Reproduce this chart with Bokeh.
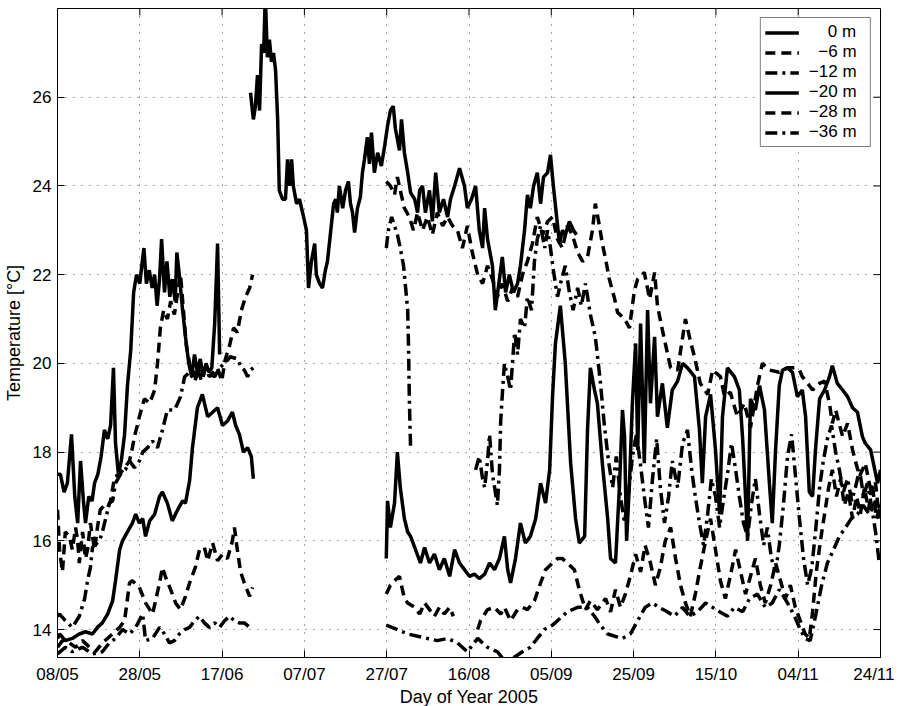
import numpy as np
from bokeh.plotting import figure
from bokeh.models import Range1d, FixedTicker, Legend, LegendItem
from bokeh.embed import file_html
from bokeh.resources import INLINE

# ---------------- axis ticks ----------------
tick_days = [128, 148, 168, 188, 208, 228, 248, 268, 288, 308, 328]
tick_labels = ["08/05", "28/05", "17/06", "07/07", "27/07", "16/08",
               "05/09", "25/09", "15/10", "04/11", "24/11"]
temp_ticks = [14, 16, 18, 20, 22, 24, 26]
day_min, day_max = 128, 328
temp_min, temp_max = 13.37, 28.0

NB = "\u00a0"
series_labels = [NB * 4 + "0 m" + NB * 2, NB * 2 + "\u22126 m" + NB * 2, "\u221212 m" + NB * 2,
                 "\u221220 m" + NB * 2, "\u221228 m" + NB * 2, "\u221236 m" + NB * 2]

# ---------------- data: (day of year, temperature) ----------------
# 0 m
m0_a = [(128.0,17.5),(128.7,17.5),(129.6,17.1),(130.4,17.3),(131.4,18.4),(132.2,17.0),(132.9,16.4),
        (133.6,17.8),(134.3,16.9),(134.8,16.4),(135.6,17.0),(136.4,16.9),(137.0,17.3),(137.8,17.5),
        (138.6,17.9),(139.4,18.5),(140.2,18.3),(140.9,18.6),(141.6,19.9),(142.1,18.2),(142.8,17.5),
        (143.5,17.8),(144.3,18.4),(145.0,19.5),(145.8,20.3),(146.5,21.6),(147.2,22.0),(148.0,21.8),
        (148.6,22.3),(149.0,22.6),(149.6,21.8),(150.3,22.1),(151.0,21.7),(151.6,22.0),(152.2,21.3),
        (152.8,21.9),(153.3,22.8),(154.0,21.6),(154.6,22.3),(155.3,21.5),(155.9,21.9),(156.6,21.4),
        (157.0,22.5),(157.6,22.0),(158.4,21.2),(159.1,20.6),(159.9,20.0),(160.6,19.7),(161.3,20.2),
        (162.0,19.8),(162.7,20.1),(163.4,19.7),(164.1,20.0),(164.8,19.8),(165.5,19.9),(166.2,20.9),
        (166.9,22.7),(167.4,20.2)]
m0_b = [(174.9,26.1),(175.6,25.5),(176.1,25.8),(176.6,26.5),(177.1,25.7),(177.6,27.2),(178.1,27.0),
        (178.5,28.3),(179.0,26.9),(179.5,27.3),(180.0,26.8),(180.5,27.0),(181.0,26.6),(181.5,25.5),
        (181.9,23.9),(182.7,23.7),(183.4,23.7),(183.9,24.6),(184.4,24.0),(184.9,24.6),(185.3,24.0),
        (186.1,23.6),(186.8,23.7),(187.8,23.3),(188.5,23.0),(189.0,21.7),(189.7,22.3),(190.5,22.7),
        (190.9,22.0),(191.7,21.8),(192.4,21.7),(193.1,22.1),(193.6,22.3),(194.3,22.9),(195.1,23.6),
        (195.6,23.7),(196.0,23.4),(196.5,24.0),(197.3,23.5),(198.0,23.9),(198.7,24.1),(199.2,23.6),
        (199.7,23.4),(200.2,22.95),(200.9,23.5),(201.6,23.75),(202.1,24.3),(202.6,24.6),(203.3,25.1),
        (203.8,24.5),(204.3,25.2),(205.0,24.3),(205.8,24.75),(206.7,24.45),(207.5,24.9),(208.2,25.35),
        (208.9,25.7),(209.6,25.8),(210.1,25.3),(211.1,24.8),(211.6,25.5),(212.3,24.75),(213.1,24.3),
        (213.8,23.85),(214.8,23.7),(215.5,23.4),(216.0,23.9),(216.7,24.0),(217.4,23.4),(218.4,23.9),
        (219.1,23.2),(219.9,24.3),(220.8,23.4),(221.8,23.7),(222.8,23.3),(223.5,23.7),(224.5,24.0),
        (225.7,24.4),(226.9,24.0),(227.6,23.5),(228.6,23.7),(229.6,24.0),(230.5,23.0),(231.3,22.6),
        (231.8,23.5),(232.5,22.8),(233.7,22.2),(234.4,21.2),(235.4,21.9),(236.1,22.4),(236.9,21.6),
        (237.8,22.0),(238.8,21.6),(239.8,21.8),(240.5,22.2),(241.5,23.0),(242.2,23.8),(242.9,23.5),
        (243.7,24.0),(244.6,24.3),(245.4,23.6),(246.1,24.2),(247.1,24.3),(247.8,24.7),(248.5,24.0),
        (249.3,23.3),(250.0,22.7),(250.7,23.0),(251.4,22.9),(252.4,23.2),(253.4,23.0),(254.1,22.9)]

# -6 m
m6_a = [(128.0,16.7),(128.5,15.8),(129.2,15.3),(129.9,16.2),(130.9,16.1),(131.6,15.8),(132.4,16.3),
        (132.9,16.0),(133.3,15.5),(134.1,16.2),(134.8,15.6),(135.3,15.8),(136.0,16.4),(137.0,15.8),
        (137.7,16.3),(138.4,16.7),(139.4,16.8),(140.2,16.75),(140.9,16.9),(141.9,17.45),(143.1,17.5),
        (144.3,17.65),(145.5,17.8),(146.2,18.1),(146.7,18.35),(147.4,18.6),(147.9,18.8),(149.1,19.2),
        (150.4,19.1),(151.6,19.4),(152.3,20.0),(153.0,20.8),(153.8,21.2),(154.7,21.0),(155.5,21.4),
        (156.4,21.1),(157.2,21.6),(157.9,22.0),(158.6,21.2),(159.3,20.4),(160.1,20.0),(161.0,19.7),
        (162.0,19.9),(163.0,19.6),(164.0,19.9),(164.9,19.7),(165.9,19.8),(166.9,19.9),(167.9,19.6),
        (168.8,20.1),(169.8,20.4),(170.8,20.8),(171.7,20.7),(172.7,21.2),(173.7,21.5),(174.7,21.7),
        (175.4,22.0)]
m6_b = [(207.9,24.1),(208.9,24.0),(209.9,23.8),(210.6,24.2),(211.3,23.9),(212.3,23.5),(213.5,23.3),
        (214.5,23.0),(215.5,23.4),(216.7,23.0),(217.9,23.3),(219.1,22.9),(220.3,23.4),(221.6,23.1),
        (222.8,23.3),(224.0,23.1),(225.2,23.0),(226.4,22.6),(227.6,23.1),(228.8,22.5),(230.1,22.0),
        (231.3,21.8),(232.5,22.2),(233.7,21.9),(234.9,21.5),(236.1,21.8),(237.4,21.4),(238.6,21.7),
        (239.8,21.5),(241.0,22.0),(242.2,22.3),(243.4,22.7),(244.6,23.3),(245.9,22.9),(247.1,23.2),
        (248.3,23.3),(249.5,22.8),(250.7,22.6),(251.9,23.1),(253.1,22.9),(254.4,22.5),(255.6,22.3),
        (256.8,22.4),(258.0,23.0),(258.7,23.6),(259.7,23.1),(260.4,22.7),(261.2,22.35),(262.1,21.9),
        (263.4,21.45),(264.1,21.15),(265.8,21.0),(267.0,20.8),(268.2,21.65),(269.0,21.9),(270.6,22.05),
        (271.9,21.45),(273.1,22.05),(273.8,21.3),(275.0,20.75),(275.7,20.45),(277.0,19.9),(278.7,19.85),
        (280.6,21.0),(281.8,20.5),(282.8,20.15),(284.2,19.55),(286.0,19.3),(287.2,19.85),(289.1,19.7),
        (290.1,19.25),(291.5,19.35),(293.2,18.8),(294.9,19.1),(296.4,18.55),(298.1,19.5),(299.3,20.0),
        (301.0,19.85),(303.4,19.8),(305.4,19.9),(307.1,19.9),(308.3,19.85),(309.0,19.7),(310.3,19.55),
        (311.5,19.4),(313.2,19.55),(314.4,19.6),(315.6,19.1),(316.3,18.65),(317.1,18.95),(318.8,18.35),
        (320.0,18.65),(321.2,18.05),(322.9,17.45),(324.3,17.75),(325.6,17.15),(326.8,17.3),(327.7,16.5)]

# -12 m
m12_a = [(128.0,14.3),(128.5,14.35),(129.9,14.2),(131.6,14.05),(133.3,14.3),(134.6,14.7),(135.3,15.1),
         (136.0,15.4),(136.5,15.85),(138.2,16.0),(138.9,16.2),(139.7,16.5),(140.6,16.85),(141.4,16.9),
         (142.1,17.3),(143.3,17.5),(144.5,17.6),(145.5,17.8),(146.7,17.65),(147.9,17.8),(148.7,18.0),
         (149.9,18.1),(151.1,18.25),(152.3,18.1),(153.5,18.5),(154.7,18.95),(156.4,18.95),(157.2,19.1),
         (157.9,19.25),(158.9,19.7),(160.1,19.8),(161.3,19.6),(162.7,19.9),(164.5,19.8),(166.2,19.7),
         (167.4,19.9),(168.6,20.0),(170.0,20.15),(171.7,20.1),(172.7,19.9),(173.4,19.85),(174.2,19.7),
         (174.9,19.85),(175.6,19.9)]
m12_b = [(207.9,22.6),(208.4,23.0),(209.2,23.3),(209.9,23.1),(210.6,22.9),(211.3,22.6),(212.1,22.2),
         (212.6,21.7),(213.1,21.2),(213.3,20.4),(213.5,19.2),(213.8,18.1)]
m12_c = [(229.6,17.6),(230.5,17.9),(231.3,17.4),(231.8,17.2),(232.5,17.8),(233.0,18.4),(233.7,17.5),
         (234.4,17.1),(234.9,16.8),(235.4,17.6),(235.7,18.7),(236.1,19.3),(236.6,20.0),(237.4,19.7),
         (238.1,19.4),(239.1,20.7),(239.8,20.2),(240.5,21.0),(241.5,20.8),(242.2,21.5),(243.2,21.2),
         (243.9,22.3),(244.6,22.8),(245.4,23.1),(246.4,22.6),(247.1,23.0),(247.8,22.6),(248.5,22.1),
         (249.5,21.5),(250.5,21.9),(251.4,22.2),(252.4,21.6),(253.3,21.2),(254.4,21.7),(255.3,21.3),
         (256.3,21.8),(257.5,21.1),(258.7,20.6),(259.9,19.6),(260.9,18.6),(261.9,17.8),(262.9,17.2),
         (263.8,17.9),(264.8,17.0),(265.8,16.4),(266.8,17.1),(267.7,17.9),(268.7,18.4),(269.7,17.7),
         (270.6,17.0),(271.6,16.3),(272.6,17.4),(273.6,18.3),(274.5,17.2),(275.5,16.4),(276.5,17.0),
         (277.4,17.8),(278.7,17.2),(279.9,18.2),(281.1,18.5),(282.1,17.6),(283.0,17.0),(284.0,16.4),
         (285.0,15.9),(286.0,16.6),(286.9,17.4),(287.9,17.0),(288.9,16.3),(289.8,16.9),(290.8,17.5),
         (291.8,18.2),(292.8,17.6),(293.7,17.0),(294.7,16.4),(295.7,16.1),(296.6,16.8),(297.6,17.4),
         (298.6,16.6),(299.6,15.9),(300.5,16.3),(301.5,15.6),(302.5,15.3),(303.4,15.9),(304.4,16.8),
         (305.4,17.9),(306.4,18.4),(307.3,17.5),(308.3,16.5),(309.3,15.6),(310.3,15.0),(311.3,15.4),
         (312.2,16.2),(313.2,17.2),(314.1,17.8),(315.1,18.3),(316.1,18.6),(317.1,18.0),(318.0,17.6),
         (319.0,17.1),(320.0,17.4),(321.0,16.9),(321.9,17.2),(322.9,17.6),(323.9,17.0),(324.8,17.3),
         (325.8,16.8),(326.8,16.2),(327.7,15.5)]

# -20 m
m20_a = [(128.0,13.8),(128.5,13.9),(129.9,13.75),(131.6,13.8),(133.3,13.9),(134.8,13.95),(136.5,13.9),
         (137.7,14.05),(138.9,14.15),(140.2,14.35),(141.4,14.65),(142.1,15.1),(143.1,15.8),(143.8,16.0),
         (145.0,16.2),(146.2,16.4),(147.0,16.6),(147.9,16.4),(148.7,16.5),(149.4,16.1),(150.4,16.45),
         (151.6,16.6),(152.8,17.0),(153.5,17.1),(154.7,16.85),(155.9,16.45),(157.2,16.7),(158.4,16.9),
         (159.1,16.85),(160.1,17.35),(160.8,18.1),(162.0,19.0),(163.2,19.3),(164.5,18.8),(165.7,18.9),
         (166.9,19.0),(168.1,18.6),(169.3,18.7),(170.5,18.9),(171.3,18.6),(172.2,18.4),(173.2,18.0),
         (174.2,18.1),(175.1,17.9),(175.6,17.4)]
m20_b = [(207.9,15.6),(208.2,16.9),(208.9,16.3),(209.9,16.85),(210.6,18.0),(211.3,17.2),(212.3,16.5),
         (213.1,16.2),(213.8,16.1),(215.0,15.8),(216.2,15.5),(217.2,15.85),(218.4,15.5),(219.6,15.7),
         (220.8,15.35),(222.0,15.6),(223.3,15.2),(224.5,15.8),(225.7,15.5),(226.9,15.35),(228.1,15.2),
         (229.3,15.25),(230.5,15.15),(231.8,15.25),(233.0,15.5),(234.2,15.35),(235.4,15.6),(236.6,16.1),
         (237.4,15.35),(238.1,15.05),(239.3,15.6),(240.5,16.4),(241.7,15.95),(242.9,16.1),(244.2,16.5),
         (245.4,17.3),(246.6,16.85),(247.6,17.6),(248.3,19.25),(249.0,20.45),(250.2,21.3),(251.4,20.0),
         (252.7,17.75),(253.9,16.5),(254.8,15.95),(256.1,16.1),(256.8,18.5),(257.5,19.9),(258.5,19.4),
         (259.2,19.1),(260.4,17.75),(261.7,16.5),(262.4,15.6),(263.6,15.5),(264.6,17.3),(265.3,18.95),
         (265.8,18.35),(266.3,16.0),(267.0,17.3),(267.7,19.1),(268.5,20.45),(269.0,18.05),(269.7,20.9),
         (270.6,17.75),(271.4,21.2),(272.1,19.1),(273.1,20.6),(273.8,18.8),(275.0,19.55),(276.2,18.55),
         (277.4,19.4),(278.7,19.6),(279.9,20.0),(281.1,19.9),(282.8,19.7),(284.0,18.5),(284.7,17.3),
         (285.5,18.8),(286.7,19.3),(287.9,18.05),(288.9,16.6),(289.6,18.8),(290.8,19.9),(292.5,19.7),
         (293.7,19.4),(294.5,18.3),(295.2,17.0),(295.7,16.0),(296.4,19.2),(297.6,18.95),(298.6,19.5),
         (299.8,18.95),(301.0,17.3),(301.7,16.4),(302.5,18.05),(303.4,19.5),(304.2,19.85),(305.4,19.9),
         (306.6,19.8),(307.8,19.25),(309.0,19.4),(309.8,18.8),(310.7,17.1),(311.5,17.0),(312.2,18.05),
         (313.2,19.2),(314.4,19.4),(315.6,19.7),(316.3,19.95),(317.5,19.55),(318.8,19.4),(320.0,19.25),
         (321.2,19.0),(322.4,18.9),(323.6,18.35),(324.3,18.2),(325.6,18.05),(326.5,17.65),(327.3,17.3),
         (328.0,17.6)]

# -28 m
m28_a = [(128.0,13.6),(129.2,13.75),(130.9,13.7),(132.4,13.6),(134.1,13.75),(135.8,13.6),(137.2,13.5),
         (138.9,13.7),(141.4,13.9),(143.1,14.05),(144.3,14.2),(145.5,15.05),(146.2,15.1),(147.9,14.95),
         (149.4,14.6),(151.1,14.35),(152.8,15.05),(153.5,15.4),(154.2,15.2),(155.5,14.9),(156.7,14.6),
         (157.9,14.45),(159.1,14.75),(160.1,15.05),(161.5,15.4),(162.5,15.8),(163.7,15.85),(164.5,15.55),
         (165.7,15.95),(166.9,15.55),(168.1,15.7),(169.3,15.6),(170.5,16.0),(171.0,16.3),(171.7,15.8),
         (172.5,15.3),(173.4,15.05),(174.7,14.75),(175.4,14.95)]
m28_b = [(207.9,14.8),(208.9,15.0),(209.9,15.1),(211.1,15.2),(212.3,14.7),(213.1,14.6),(214.8,14.5),
         (216.0,14.35),(217.2,14.6),(218.4,14.45),(219.6,14.3),(220.8,14.5),(222.0,14.35),(223.3,14.5),
         (224.2,14.3)]
m28_c = [(230.1,14.0),(230.8,14.2),(232.5,14.45),(234.2,14.5),(235.7,14.35),(236.6,14.5),(238.1,14.2),
         (239.8,14.45),(241.0,14.5),(242.2,14.45),(243.9,14.65),(245.4,15.05),(246.6,15.35),(248.3,15.5),
         (249.5,15.6),(250.7,15.6),(251.9,15.5),(253.6,15.35),(254.8,14.9),(256.3,14.45),(257.5,14.65),
         (259.2,14.45),(261.2,14.7),(262.4,14.4),(263.6,14.9),(264.8,14.5),(266.0,14.8),(267.2,15.2),
         (268.5,15.7),(269.7,15.3),(270.8,15.9),(272.1,15.5),(273.3,15.0),(274.5,15.4),(275.7,16.0),
         (277.0,16.3),(278.2,15.6),(279.4,15.0),(280.6,14.6),(281.8,14.3),(283.0,14.8),(284.2,15.4),
         (285.5,16.0),(286.7,16.5),(287.9,15.8),(289.1,15.1),(290.3,14.7),(291.5,15.2),(292.8,15.8),
         (294.0,15.3),(295.2,14.8),(296.4,15.2),(297.6,15.6),(298.8,15.0),(300.0,14.6),(301.3,15.0),
         (302.5,15.5),(303.7,15.1),(304.9,14.7),(306.1,15.0),(307.3,14.5),(308.5,14.2),(309.7,13.9),
         (310.7,13.8),(311.5,14.4),(312.4,15.3),(313.4,16.0),(314.4,16.6),(315.4,17.2),(316.3,17.6),
         (317.3,17.0),(318.3,17.4),(319.2,16.8),(320.2,17.1),(321.2,16.5),(322.2,17.0),(323.1,16.6),
         (324.1,17.2),(325.1,16.7),(326.0,17.3),(327.0,16.5),(328.0,16.8)]

# -36 m
m36_a = [(128.0,13.45),(129.9,13.6),(131.6,13.5),(134.1,13.6),(136.5,13.45),(138.9,13.5),(140.6,13.7),
         (142.1,13.8),(143.8,14.0),(145.5,13.9),(147.0,14.05),(148.7,14.35),(149.4,13.75),(151.1,13.8),
         (152.8,14.05),(154.0,13.9),(155.2,13.7),(156.4,13.75),(157.6,13.9),(158.9,14.0),(160.1,14.05),
         (161.3,14.2),(162.5,14.3),(163.7,14.15),(164.9,14.05),(166.2,14.15),(167.4,14.05),(168.6,14.2),
         (169.8,14.3),(171.0,14.2),(172.2,14.15),(173.4,14.15),(174.7,14.05),(175.4,14.0)]
m36_b = [(207.9,14.1),(210.6,14.0),(213.1,13.9),(215.5,13.85),(217.9,13.8),(220.3,13.75),(222.8,13.8),
         (225.2,13.7),(227.6,13.5),(230.1,13.8),(232.5,13.6),(234.9,13.5),(236.6,13.3),(238.6,13.35),
         (241.0,13.5),(242.9,13.6),(244.6,13.8),(246.3,14.0),(248.3,14.1),(249.5,14.2),(251.9,14.4),
         (254.4,14.5),(256.8,14.5),(258.5,14.3),(259.9,14.1),(261.7,13.9),(263.4,13.85),(265.3,13.8),
         (267.2,13.9),(269.0,14.2),(270.8,14.5),(272.5,14.6),(274.2,14.5),(276.2,14.4),(277.9,14.3),
         (279.9,14.5),(281.6,14.3),(283.5,14.4),(285.5,14.6),(287.2,14.5),(288.9,14.4),(290.8,14.3),
         (292.5,14.5),(294.5,14.4),(296.2,14.7),(298.1,14.8),(300.0,14.5),(301.7,14.6),(303.4,14.9),
         (305.4,14.6),(307.1,14.3),(308.5,14.0),(309.7,13.8),(310.9,13.75),(312.2,14.3),(313.7,15.0),
         (315.1,15.5),(316.6,15.8),(318.0,16.1),(319.5,16.3),(320.9,16.5),(322.4,16.6),(323.8,16.8),
         (325.3,16.6),(326.8,16.9),(328.0,16.7)]


def join(*segments):
    xs, ys = [], []
    for i, seg in enumerate(segments):
        if i:
            xs.append(np.nan)
            ys.append(np.nan)
        xs += [d for d, _ in seg]
        ys += [t for _, t in seg]
    return np.array(xs, dtype=float), np.array(ys, dtype=float)


series = [
    (join(m0_a, m0_b), "solid"),
    (join(m6_a, m6_b), "10 6"),
    (join(m12_a, m12_b, m12_c), "12 5 3 5"),
    (join(m20_a, m20_b), "solid"),
    (join(m28_a, m28_b, m28_c), "10 6"),
    (join(m36_a, m36_b), "12 5 3 5"),
]

FONT = "Liberation Sans"
FS = "17px"
FS_LABEL = "18px"

p = figure(frame_width=823, frame_height=649,
           x_range=Range1d(day_min, day_max), y_range=Range1d(temp_min, temp_max),
           output_backend="svg", toolbar_location=None,
           min_border_left=52, min_border_right=14, min_border_top=8, min_border_bottom=40,
           background_fill_color="white", border_fill_color="white")

p.outline_line_color = "black"
p.outline_line_width = 1

for ax in p.xaxis:
    ax.ticker = FixedTicker(ticks=tick_days)
    ax.major_label_overrides = {d: l for d, l in zip(tick_days, tick_labels)}
    ax.axis_label = "Day of Year 2005"
for ax in p.yaxis:
    ax.ticker = FixedTicker(ticks=temp_ticks)
    ax.axis_label = "Temperature [\u00b0C]"

for ax in list(p.xaxis) + list(p.yaxis):
    ax.major_tick_in = 7
    ax.major_tick_out = 0
    ax.minor_tick_line_color = None
    ax.major_label_text_font = FONT
    ax.major_label_text_font_size = FS
    ax.major_label_text_color = "black"
    ax.axis_label_text_font = FONT
    ax.axis_label_text_font_size = FS_LABEL
    ax.axis_label_text_font_style = "normal"
    ax.axis_label_text_color = "black"
    ax.axis_line_color = "black"
    ax.major_tick_line_color = "black"
p.xaxis.major_label_standoff = 7
p.xaxis.axis_label_standoff = 0
p.yaxis.major_label_standoff = 6
p.yaxis.axis_label_standoff = 6

for g, t in ((p.xgrid, tick_days), (p.ygrid, temp_ticks)):
    g.ticker = FixedTicker(ticks=t)
    g.grid_line_color = "black"
    g.grid_line_alpha = 0.7
    g.grid_line_dash = "1 7"
    g.grid_line_width = 1

# mirrored inward tick marks on the top and right edges (half of each dash is clipped)
p.scatter(tick_days, [temp_max] * len(tick_days), marker="dash", size=14, angle=np.pi / 2,
          line_color="black", line_width=1)
p.scatter([day_max] * len(temp_ticks), temp_ticks, marker="dash", size=14,
          line_color="black", line_width=1)

items = []
for ((xs, ys), dash), lab in zip(series, series_labels):
    r = p.line(xs, ys, line_color="black", line_width=3.5, line_dash=dash)
    items.append(LegendItem(label=lab, renderers=[r]))

legend = Legend(items=items, location="top_right")
legend.label_text_font = FONT
legend.label_text_font_size = FS
legend.label_text_color = "black"
legend.glyph_width = 34
legend.glyph_height = 19
legend.label_height = 19
legend.spacing = 0
legend.padding = 4
legend.label_standoff = 10
legend.margin = 9
legend.border_line_color = "black"
legend.border_line_width = 1
legend.background_fill_alpha = 1
p.add_layout(legend)

open("out.html", "w").write(file_html(p, INLINE))
